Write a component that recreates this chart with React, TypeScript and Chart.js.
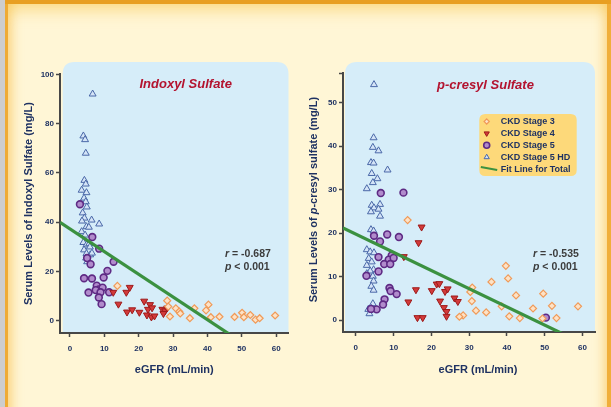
import React, { useEffect, useRef } from 'react';
import { Chart, registerables } from 'chart.js';

Chart.register(...registerables);

const FONT = '"Liberation Sans", Arial, Helvetica, sans-serif';
const NAVY = '#1f3262';
const AXIS = '#474747';
const DARK_RED = '#b3132f';
const STAT = '#3c3c3c';
const PLOT_BG = '#d6edf9';
const LEGEND_BG = '#fdd97a';
const FIT_COLOR = '#3b9140';
const H = 407;

type Pt = [number, number];

// ---------- data ----------
const seriesNames = ['CKD Stage 3', 'CKD Stage 4', 'CKD Stage 5', 'CKD Stage 5 HD'];
const fitName = 'Fit Line for Total';
const xTicks = [0, 10, 20, 30, 40, 50, 60];
const indoxylYTicks = [0, 20, 40, 60, 80, 100];
const pcresylYTicks = [0, 10, 20, 30, 40, 50, 56.7]; // top mark unlabelled

const indoxylStage3: Pt[] = [
  [13.8, 14.2], [28.3, 8.2], [28.6, 5.8], [29.1, 1.8], [30.8, 5.1], [31.8, 3.8], [32.1, 3.0],
  [34.9, 1.1], [36.2, 5.1], [39.6, 4.3], [40.3, 6.6], [41.0, 1.5], [43.5, 1.7], [47.9, 1.6],
  [50.1, 3.3], [50.6, 1.5], [52.5, 2.4], [54.0, 0.5], [55.2, 1.1], [59.7, 2.2],
];
const indoxylStage4: Pt[] = [
  [12.6, 11.6], [16.4, 11.6], [17.4, 13.6], [14.1, 6.8], [16.6, 3.6], [18.1, 4.5], [20.2, 3.5],
  [21.6, 8.0], [23.3, 6.6], [22.7, 4.7], [23.9, 5.3], [22.4, 2.4], [23.7, 1.6], [24.6, 2.0],
  [26.9, 4.7], [27.7, 4.1], [27.2, 3.0], [28.3, 5.2],
];
const indoxylStage5: Pt[] = [
  [2.9, 47.3], [6.5, 34.0], [8.5, 29.3], [12.7, 24.0], [10.9, 20.3], [9.8, 17.6], [4.1, 17.3],
  [6.4, 17.2], [5.0, 25.5], [6.0, 23.0], [7.8, 14.3], [8.4, 12.8], [9.5, 13.5], [7.5, 12.5],
  [8.9, 11.6], [8.4, 9.5], [5.4, 11.5], [11.4, 11.6], [9.2, 6.8],
];
const indoxylStage5HD: Pt[] = [
  [6.6, 92.0], [3.9, 75.0], [4.4, 73.5], [4.6, 68.0], [4.2, 57.0], [4.6, 55.5], [3.4, 53.0],
  [4.8, 52.0], [4.1, 49.8], [4.6, 48.3], [4.9, 46.2], [3.7, 43.8], [4.2, 41.7], [3.5, 40.5],
  [6.3, 40.9], [8.5, 39.3], [4.8, 38.2], [3.4, 36.2], [4.4, 34.8], [5.5, 38.0], [3.9, 31.8],
  [4.8, 30.8], [5.6, 31.3], [4.1, 28.8], [5.8, 30.0], [4.8, 27.3], [4.7, 25.5], [5.0, 24.0],
  [5.9, 26.8], [6.4, 27.5],
];
const indoxylFit: Pt[] = [[-2.9, 40.0], [50, -8.7]];
const indoxylR = '-0.687';
const indoxylP = '< 0.001';

const pcresylStage3: Pt[] = [
  [13.7, 23.0], [39.7, 12.5], [40.3, 9.6], [35.9, 8.8], [30.8, 7.5], [30.3, 6.5], [30.7, 4.4],
  [28.4, 1.1], [27.4, 0.8], [31.8, 2.2], [34.5, 1.8], [38.6, 3.2], [40.6, 0.9], [42.4, 5.7],
  [43.4, 0.5], [46.9, 2.7], [49.6, 6.1], [49.4, 0.4], [51.9, 3.3], [53.1, 0.5], [58.8, 3.2],
];
const pcresylStage4: Pt[] = [
  [17.4, 21.4], [16.6, 17.8], [12.7, 14.6], [15.9, 7.0], [13.9, 4.2], [16.3, 0.6], [17.7, 0.6],
  [20.1, 6.8], [21.4, 8.3], [22.1, 8.4], [22.3, 4.4], [23.3, 2.9], [24.0, 2.0], [24.0, 0.9],
  [23.6, 6.6], [24.3, 7.2], [26.1, 5.1], [27.0, 4.3],
];
const pcresylStage5: Pt[] = [
  [6.6, 29.2], [12.6, 29.3], [4.8, 19.4], [8.3, 19.7], [11.4, 19.1], [6.4, 18.1], [6.0, 14.5],
  [9.5, 14.9], [8.7, 13.9], [10.0, 14.3], [7.5, 12.9], [9.1, 12.9], [6.0, 11.2], [2.8, 10.2],
  [8.9, 7.4], [9.2, 6.7], [10.8, 6.0], [7.6, 4.8], [7.2, 3.6], [5.5, 2.5], [4.0, 2.6], [50.3, 0.6],
];
const pcresylStage5HD: Pt[] = [
  [4.8, 54.1], [4.7, 41.9], [4.5, 39.7], [6.0, 38.9], [4.0, 36.2], [4.7, 36.1], [8.4, 34.5],
  [4.2, 33.7], [5.7, 32.5], [4.5, 31.6], [2.9, 30.2], [4.2, 26.4], [6.4, 26.6], [4.8, 25.8],
  [6.0, 25.5], [4.0, 24.9], [6.4, 23.9], [4.0, 20.8], [4.7, 20.5], [2.9, 16.2], [3.8, 15.7],
  [4.8, 15.5], [3.4, 14.2], [4.2, 13.4], [2.9, 12.6], [4.7, 11.6], [3.8, 11.3], [2.9, 10.7],
  [4.5, 10.1], [4.7, 9.0], [4.1, 7.8], [4.7, 6.9], [4.5, 3.8], [4.1, 2.7], [3.6, 1.5], [3.3, 2.5],
];
const pcresylFit: Pt[] = [[-3.4, 21.2], [60, -5.3]];
const pcresylR = '-0.535';
const pcresylP = '< 0.001';

// ---------- styles ----------
type MStyle = { pointStyle: string; radius: number; rotation: number; bg: string; border: string; bw: number };
const markerStyles: MStyle[] = [
  { pointStyle: 'rectRot', radius: 3.5, rotation: 0, bg: '#fde2c6', border: '#f09a58', bw: 1.2 },
  { pointStyle: 'triangle', radius: 4, rotation: 180, bg: '#d23a3a', border: '#9e1a1a', bw: 1 },
  { pointStyle: 'circle', radius: 3.4, rotation: 0, bg: '#b18bcc', border: '#5e2a84', bw: 1.6 },
  { pointStyle: 'triangle', radius: 4, rotation: 0, bg: '#d4e4f7', border: '#4a68a8', bw: 1 },
];

type Seg = { t: string; italic?: boolean };

const toXY = (a: Pt[]) => a.map(([x, y]) => ({ x, y }));

function drawRich(ctx: CanvasRenderingContext2D, segs: Seg[], x: number, y: number, size: number, color: string, align: 'left' | 'center') {
  const fontOf = (s: Seg) => `${s.italic ? 'italic ' : ''}bold ${size}px ${FONT}`;
  let total = 0;
  for (const s of segs) { ctx.font = fontOf(s); total += ctx.measureText(s.t).width; }
  let cx = align === 'center' ? x - total / 2 : x;
  ctx.fillStyle = color;
  ctx.textBaseline = 'middle';
  ctx.textAlign = 'left';
  for (const s of segs) { ctx.font = fontOf(s); ctx.fillText(s.t, cx, y); cx += ctx.measureText(s.t).width; }
}

function drawMarker(ctx: CanvasRenderingContext2D, st: MStyle, x: number, y: number, r: number) {
  ctx.beginPath();
  if (st.pointStyle === 'circle') ctx.arc(x, y, r, 0, Math.PI * 2);
  else if (st.pointStyle === 'rectRot') {
    ctx.moveTo(x, y - r); ctx.lineTo(x + r, y); ctx.lineTo(x, y + r); ctx.lineTo(x - r, y); ctx.closePath();
  } else {
    const d = st.rotation === 180 ? -1 : 1;
    ctx.moveTo(x, y - d * r); ctx.lineTo(x + r * 0.866, y + d * r * 0.5); ctx.lineTo(x - r * 0.866, y + d * r * 0.5); ctx.closePath();
  }
  ctx.fillStyle = st.bg; ctx.fill();
  ctx.lineWidth = st.bw; ctx.strokeStyle = st.border; ctx.stroke();
}

interface PanelSpec {
  groups: Pt[][];
  fit: Pt[];
  xMin: number; xMax: number; yMin: number; yMax: number;
  yTicks: number[]; yLabelStep: number;
  canvasW: number; yWidth: number;
  padding: { left: number; right: number; top: number; bottom: number };
  bgTop: number; bgInsetL: number;
  title: string; titleX: number; titleY: number;
  yTitle: Seg[]; yTitleX: number; yTitleDy: number;
  xTitle: string; xTitleDx: number; xTitleY: number;
  statX: number; statY: number; r: string; p: string;
  legend?: { x0: number; y0: number; x1: number; y1: number; markerX: number; textX: number; rowY: number; step: number };
}

function makeDecor(spec: PanelSpec) {
  return {
    id: 'decor',
    beforeDraw(chart: any) {
      const { ctx, chartArea: a } = chart;
      const x0 = a.left + spec.bgInsetL, x1 = a.right, y0 = spec.bgTop, y1 = a.bottom, r = 12;
      ctx.save();
      ctx.beginPath();
      ctx.moveTo(x0, y1);
      ctx.lineTo(x0, y0 + r);
      ctx.quadraticCurveTo(x0, y0, x0 + r, y0);
      ctx.lineTo(x1 - r, y0);
      ctx.quadraticCurveTo(x1, y0, x1, y0 + r);
      ctx.lineTo(x1, y1);
      ctx.closePath();
      ctx.fillStyle = PLOT_BG;
      ctx.fill();
      ctx.restore();
    },
    afterDraw(chart: any) {
      const { ctx, chartArea: a } = chart;
      ctx.save();
      // title
      ctx.font = `italic bold 13px ${FONT}`;
      ctx.fillStyle = DARK_RED;
      ctx.textAlign = 'center';
      ctx.textBaseline = 'middle';
      ctx.fillText(spec.title, spec.titleX, spec.titleY);
      // stats
      drawRich(ctx, [{ t: 'r', italic: true }, { t: ' = ' + spec.r }], spec.statX, spec.statY, 10.5, STAT, 'left');
      drawRich(ctx, [{ t: 'p', italic: true }, { t: ' ' + spec.p }], spec.statX, spec.statY + 13.5, 10.5, STAT, 'left');
      // x title
      drawRich(ctx, [{ t: spec.xTitle }], (a.left + a.right) / 2 + spec.xTitleDx, spec.xTitleY, 11, NAVY, 'center');
      // y title
      ctx.save();
      ctx.translate(spec.yTitleX, (a.top + a.bottom) / 2 + spec.yTitleDy);
      ctx.rotate(-Math.PI / 2);
      drawRich(ctx, spec.yTitle, 0, 0, 11, NAVY, 'center');
      ctx.restore();
      // legend
      const L = spec.legend;
      if (L) {
        const rr = 6;
        ctx.beginPath();
        ctx.moveTo(L.x0 + rr, L.y0);
        ctx.lineTo(L.x1 - rr, L.y0); ctx.quadraticCurveTo(L.x1, L.y0, L.x1, L.y0 + rr);
        ctx.lineTo(L.x1, L.y1 - rr); ctx.quadraticCurveTo(L.x1, L.y1, L.x1 - rr, L.y1);
        ctx.lineTo(L.x0 + rr, L.y1); ctx.quadraticCurveTo(L.x0, L.y1, L.x0, L.y1 - rr);
        ctx.lineTo(L.x0, L.y0 + rr); ctx.quadraticCurveTo(L.x0, L.y0, L.x0 + rr, L.y0);
        ctx.closePath();
        ctx.fillStyle = LEGEND_BG;
        ctx.fill();
        const names = [...seriesNames, fitName];
        names.forEach((n, i) => {
          const y = L.rowY + L.step * i;
          if (i < 4) drawMarker(ctx, markerStyles[i], L.markerX, y, i === 0 ? 2.6 : 3);
          else {
            ctx.beginPath();
            ctx.moveTo(L.x0 + 1.5, y - 2);
            ctx.lineTo(L.textX - 3.5, y + 1);
            ctx.lineWidth = 2; ctx.strokeStyle = FIT_COLOR; ctx.stroke();
          }
          drawRich(ctx, [{ t: n }], L.textX, y, 9, NAVY, 'left');
        });
      }
      ctx.restore();
    },
  };
}

function buildConfig(spec: PanelSpec): any {
  const datasets: any[] = [
    {
      label: fitName, data: toXY(spec.fit), showLine: true, borderColor: FIT_COLOR, borderWidth: 3.2,
      pointRadius: 0, pointHoverRadius: 0, clip: 0, order: 0,
    },
    ...spec.groups.map((g, i) => {
      const ms = markerStyles[i];
      return {
        label: seriesNames[i], data: toXY(g), pointStyle: ms.pointStyle, pointRadius: ms.radius,
        pointRotation: ms.rotation, backgroundColor: ms.bg, borderColor: ms.border, borderWidth: ms.bw,
        order: i + 1, clip: false,
      };
    }),
  ];
  const tickFont = { family: FONT, size: 8, weight: 'bold' as const };
  return {
    type: 'scatter',
    data: { datasets },
    plugins: [makeDecor(spec)],
    options: {
      responsive: false,
      animation: false,
      devicePixelRatio: 1,
      layout: { padding: spec.padding },
      plugins: { legend: { display: false }, tooltip: { enabled: false }, title: { display: false } },
      scales: {
        x: {
          type: 'linear', min: spec.xMin, max: spec.xMax,
          afterBuildTicks: (s: any) => { s.ticks = xTicks.map((v) => ({ value: v })); },
          afterFit: (s: any) => { s.height = 48; },
          ticks: { font: tickFont, color: NAVY, padding: 7, maxRotation: 0, autoSkip: false, callback: (v: any) => String(v) },
          grid: { display: true, drawOnChartArea: false, drawTicks: true, tickLength: 4, tickColor: AXIS, tickWidth: 1.5 },
          border: { display: true, color: AXIS, width: 2 },
        },
        y: {
          type: 'linear', min: spec.yMin, max: spec.yMax,
          afterBuildTicks: (s: any) => { s.ticks = spec.yTicks.map((v) => ({ value: v })); },
          afterFit: (s: any) => { s.width = spec.yWidth; },
          ticks: {
            font: tickFont, color: NAVY, padding: 2, autoSkip: false,
            callback: (v: any) => (Math.abs(v % spec.yLabelStep) < 1e-6 ? String(v) : ''),
          },
          grid: { display: true, drawOnChartArea: false, drawTicks: true, tickLength: 4, tickColor: AXIS, tickWidth: 1.5 },
          border: { display: true, color: AXIS, width: 2 },
        },
      },
    },
  };
}

const leftSpec: PanelSpec = {
  groups: [indoxylStage3, indoxylStage4, indoxylStage5, indoxylStage5HD],
  fit: indoxylFit,
  xMin: -2.9, xMax: 63.6, yMin: -4.9, yMax: 100,
  yTicks: indoxylYTicks, yLabelStep: 20,
  canvasW: 300, yWidth: 60,
  padding: { left: 0, right: 11.5, top: 74.3, bottom: 26 },
  bgTop: 62, bgInsetL: 2.7,
  title: 'Indoxyl Sulfate', titleX: 185.7, titleY: 84,
  yTitle: [{ t: 'Serum Levels of Indoxyl Sulfate (mg/L)' }], yTitleX: 28.5, yTitleDy: 0,
  xTitle: 'eGFR (mL/min)', xTitleDx: 0, xTitleY: 370,
  statX: 225, statY: 254, r: indoxylR, p: indoxylP,
};

const rightSpec: PanelSpec = {
  groups: [pcresylStage3, pcresylStage4, pcresylStage5, pcresylStage5HD],
  fit: pcresylFit,
  xMin: -3.4, xMax: 63.3, yMin: -2.7, yMax: 56.7,
  yTicks: pcresylYTicks, yLabelStep: 10,
  canvasW: 311, yWidth: 43,
  padding: { left: 0, right: 16, top: 73.3, bottom: 27 },
  bgTop: 62, bgInsetL: 2,
  title: 'p-cresyl Sulfate', titleX: 185.5, titleY: 85,
  yTitle: [{ t: 'Serum Levels of ' }, { t: 'p', italic: true }, { t: '-cresyl sulfate (mg/L)' }], yTitleX: 14, yTitleDy: -3,
  xTitle: 'eGFR (mL/min)', xTitleDx: 9, xTitleY: 370,
  statX: 233, statY: 254, r: pcresylR, p: pcresylP,
  legend: { x0: 179.3, y0: 114, x1: 276.7, y1: 176, markerX: 186.7, textX: 200.7, rowY: 121.5, step: 11.9 },
};

function Panel({ spec, left }: { spec: PanelSpec; left: number }) {
  const ref = useRef<HTMLCanvasElement>(null);
  useEffect(() => {
    const chart = new Chart(ref.current as HTMLCanvasElement, buildConfig(spec));
    return () => chart.destroy();
  }, [spec]);
  return (
    <canvas
      ref={ref}
      width={spec.canvasW}
      height={H}
      style={{ position: 'absolute', left, top: 0, width: spec.canvasW, height: H }}
    />
  );
}

export default function App() {
  return (
    <div style={{ position: 'fixed', left: 0, top: 0, width: 611, height: H, background: '#fff6d6', overflow: 'hidden' }}>
      <div style={{ position: 'absolute', left: 0, top: 0, width: 5, height: H, background: '#cdcdcd' }} />
      <div
        style={{
          position: 'absolute', left: 5, top: 0, width: 606, height: H + 40,
          boxShadow:
            'inset 0 4px 0 #e89f22, inset 3px 0 0 #efab34, inset -4px 0 0 #f0ae3a, inset 0 16px 16px -6px rgba(248,196,70,0.55), inset 12px 0 12px -6px rgba(245,180,50,0.55), inset -12px 0 12px -6px rgba(245,180,50,0.55)',
        }}
      />
      <Panel spec={leftSpec} left={0} />
      <Panel spec={rightSpec} left={300} />
    </div>
  );
}
